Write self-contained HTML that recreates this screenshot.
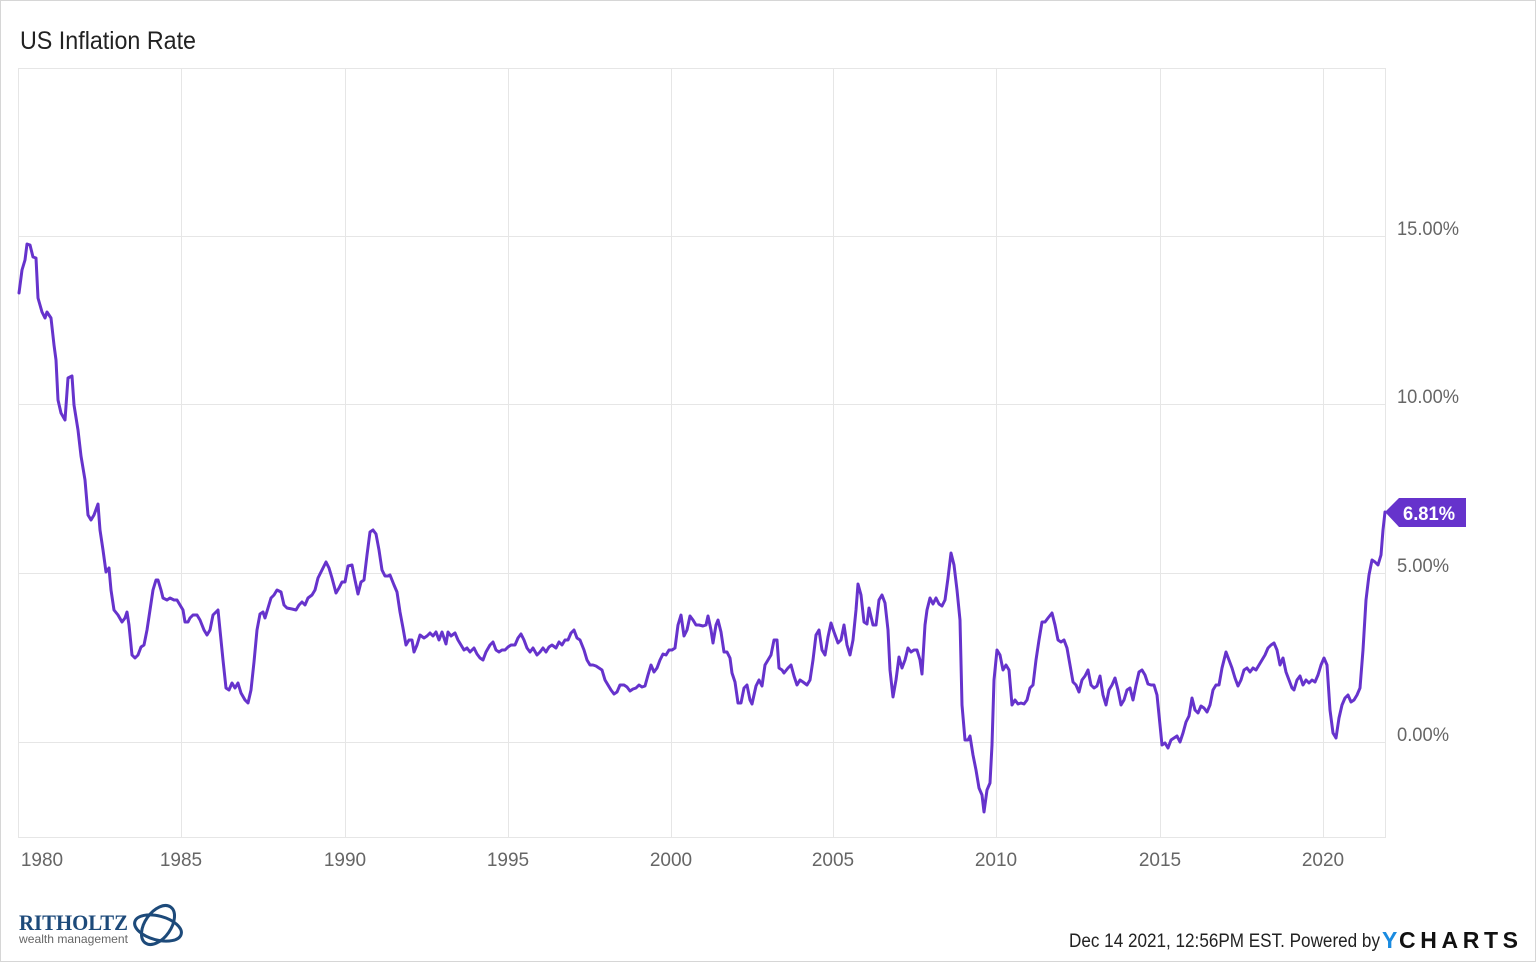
<!DOCTYPE html>
<html><head><meta charset="utf-8"><style>
html,body{margin:0;padding:0;background:#fff}
svg{display:block}
</style></head><body>
<svg width="1536" height="962" viewBox="0 0 1536 962" xmlns="http://www.w3.org/2000/svg" font-family="Liberation Sans, sans-serif">
<rect x="0.5" y="0.5" width="1535" height="961" fill="#fff" stroke="#d6d6d6"/>
<text x="20" y="49" font-size="25" fill="#222" textLength="176" lengthAdjust="spacingAndGlyphs">US Inflation Rate</text>
<g stroke="#e6e6e6" stroke-width="1" fill="none">
<rect x="18.5" y="68.5" width="1367" height="769"/>
<line x1="181.5" y1="68" x2="181.5" y2="837"/>
<line x1="345.5" y1="68" x2="345.5" y2="837"/>
<line x1="508.5" y1="68" x2="508.5" y2="837"/>
<line x1="671.5" y1="68" x2="671.5" y2="837"/>
<line x1="833.5" y1="68" x2="833.5" y2="837"/>
<line x1="996.5" y1="68" x2="996.5" y2="837"/>
<line x1="1160.5" y1="68" x2="1160.5" y2="837"/>
<line x1="1323.5" y1="68" x2="1323.5" y2="837"/>
<line x1="18" y1="236.5" x2="1385" y2="236.5"/>
<line x1="18" y1="404.5" x2="1385" y2="404.5"/>
<line x1="18" y1="573.5" x2="1385" y2="573.5"/>
<line x1="18" y1="742.5" x2="1385" y2="742.5"/>
</g>
<g font-size="19" fill="#666">
<text x="1397" y="235" textLength="62" lengthAdjust="spacingAndGlyphs">15.00%</text>
<text x="1397" y="403" textLength="62" lengthAdjust="spacingAndGlyphs">10.00%</text>
<text x="1397" y="572" textLength="52" lengthAdjust="spacingAndGlyphs">5.00%</text>
<text x="1397" y="741" textLength="52" lengthAdjust="spacingAndGlyphs">0.00%</text>
</g>
<g font-size="19" fill="#666" text-anchor="middle">
<text x="42" y="866">1980</text>
<text x="181" y="866">1985</text>
<text x="345" y="866">1990</text>
<text x="508" y="866">1995</text>
<text x="671" y="866">2000</text>
<text x="833" y="866">2005</text>
<text x="996" y="866">2010</text>
<text x="1160" y="866">2015</text>
<text x="1323" y="866">2020</text>
</g>
<polyline fill="none" stroke="#6633cc" stroke-width="3" stroke-linejoin="round" stroke-linecap="round" points="19,293 22,270 25,260 27,244 30,245 33,257 36,258 38,298 42,312 45,318 47,312 51,318 54,345 56,360 58,400 61,413 65,420 68,378 72,376 74,405 78,430 81,456 85,480 88,515 91,520 94,515 98,504 100,530 103,550 106,572 109,568 111,590 114,610 118,615 122,622 125,618 127,612 129,625 132,655 135,658 138,655 141,647 144,645 147,630 150,610 153,590 156,580 158,580 161,590 163,598 167,600 170,598 174,600 177,600 180,605 183,610 185,622 188,622 190,618 193,615 197,615 200,620 204,630 207,635 210,630 213,615 218,610 220,630 223,660 226,688 229,690 232,683 235,688 238,683 241,693 245,700 248,703 251,690 254,662 257,630 260,614 263,612 265,618 268,608 271,598 274,595 277,590 281,592 284,605 287,608 292,609 296,610 299,605 302,602 305,605 308,598 312,595 315,590 318,578 322,570 326,562 329,568 332,578 336,593 339,588 342,582 345,582 348,566 352,565 355,580 358,594 361,582 364,580 367,555 370,532 373,530 376,534 379,550 382,570 385,576 388,576 390,575 394,585 397,592 400,612 403,628 406,645 409,640 412,640 414,652 417,645 420,635 424,638 427,636 430,633 433,636 436,632 439,640 442,632 446,644 448,632 451,636 455,633 458,640 461,645 464,650 467,648 470,652 474,648 477,654 480,658 483,660 486,652 490,645 493,642 496,650 499,652 502,650 505,650 508,647 511,645 515,645 518,638 521,634 524,640 527,648 530,652 533,648 537,655 540,652 543,648 546,652 549,647 552,645 556,648 559,642 562,645 565,640 568,640 571,633 574,630 577,638 580,640 584,650 587,660 590,665 593,665 596,666 599,668 602,670 605,680 608,685 611,690 614,694 617,692 620,685 624,685 627,687 630,691 633,689 636,688 639,685 642,687 645,686 648,675 651,665 654,672 657,668 660,660 663,654 666,655 669,650 672,650 675,648 678,625 681,615 684,636 687,630 690,616 693,620 696,625 699,625 703,626 706,625 708,616 711,630 713,643 716,625 718,620 721,632 724,652 727,652 730,658 732,673 735,682 738,703 741,703 744,688 747,685 750,700 752,704 756,686 759,680 762,686 765,665 768,660 771,655 774,640 777,640 779,668 782,670 784,673 788,668 791,665 794,676 797,685 800,680 803,682 807,685 810,680 813,660 816,635 819,630 822,650 825,655 828,637 831,623 834,632 838,643 841,640 844,625 847,645 850,655 853,640 856,610 858,584 861,595 864,622 867,624 869,608 873,625 876,625 879,600 882,595 885,603 888,630 890,670 893,697 896,680 899,657 902,668 905,660 908,648 911,652 914,650 917,650 920,660 922,674 925,625 927,610 930,598 933,604 936,598 939,604 942,606 945,600 948,578 951,553 954,565 957,590 960,620 962,705 965,740 968,740 970,736 973,755 976,770 979,788 982,795 984,812 987,790 990,783 992,745 994,680 997,650 1000,655 1003,670 1006,665 1009,670 1012,705 1015,700 1018,704 1021,703 1024,704 1027,700 1030,688 1033,685 1036,660 1039,640 1042,622 1045,622 1048,618 1052,613 1055,625 1058,640 1061,642 1064,640 1067,648 1070,665 1073,682 1076,685 1079,692 1082,680 1085,676 1088,670 1091,685 1094,688 1097,686 1100,676 1103,695 1106,705 1109,690 1112,685 1115,678 1118,690 1121,705 1124,700 1127,690 1130,688 1133,700 1136,685 1139,672 1142,670 1145,675 1148,684 1151,685 1154,685 1157,695 1160,725 1162,745 1165,743 1168,748 1171,740 1174,738 1177,736 1180,742 1183,733 1186,722 1189,716 1192,698 1195,710 1198,713 1201,706 1204,708 1207,712 1210,705 1213,690 1216,685 1219,685 1222,668 1226,652 1229,660 1232,668 1235,678 1238,686 1241,680 1244,670 1247,668 1250,672 1253,668 1256,670 1259,665 1262,660 1265,655 1268,648 1271,645 1274,643 1277,650 1280,665 1283,658 1286,672 1289,680 1292,688 1294,690 1297,680 1300,676 1303,685 1306,680 1309,683 1312,680 1315,682 1318,675 1321,665 1324,658 1327,665 1330,710 1333,733 1336,738 1339,718 1342,705 1345,698 1348,695 1351,702 1354,700 1357,695 1360,688 1363,650 1366,600 1369,575 1372,560 1375,562 1378,565 1381,555 1383,530 1385,512"/>
<polygon points="1385,512 1399,498 1466,498 1466,527 1399,527" fill="#6633cc"/>
<text x="1403" y="520" font-size="19" font-weight="bold" fill="#fff" textLength="52" lengthAdjust="spacingAndGlyphs">6.81%</text>
<text x="19" y="930" font-family="Liberation Serif, serif" font-size="22" font-weight="bold" fill="#1d4a7a" textLength="109" lengthAdjust="spacingAndGlyphs">RITHOLTZ</text>
<text x="19" y="943" font-size="12" fill="#666" textLength="109" lengthAdjust="spacingAndGlyphs">wealth management</text>
<g fill="none" stroke="#1d4a7a" stroke-width="3">
<ellipse cx="158" cy="925" rx="13" ry="22" transform="rotate(35 158 925)"/>
<ellipse cx="158" cy="928" rx="24" ry="12" transform="rotate(15 158 928)"/>
</g>
<text x="1069" y="947" font-size="19" fill="#222" textLength="311" lengthAdjust="spacingAndGlyphs">Dec 14 2021, 12:56PM EST. Powered by</text>
<text x="1382" y="948" font-size="23" font-weight="bold" fill="#1a8be0">Y</text>
<text x="1399" y="948" font-size="23" font-weight="bold" fill="#111" textLength="119" lengthAdjust="spacing">CHARTS</text>
</svg>
</body></html>
